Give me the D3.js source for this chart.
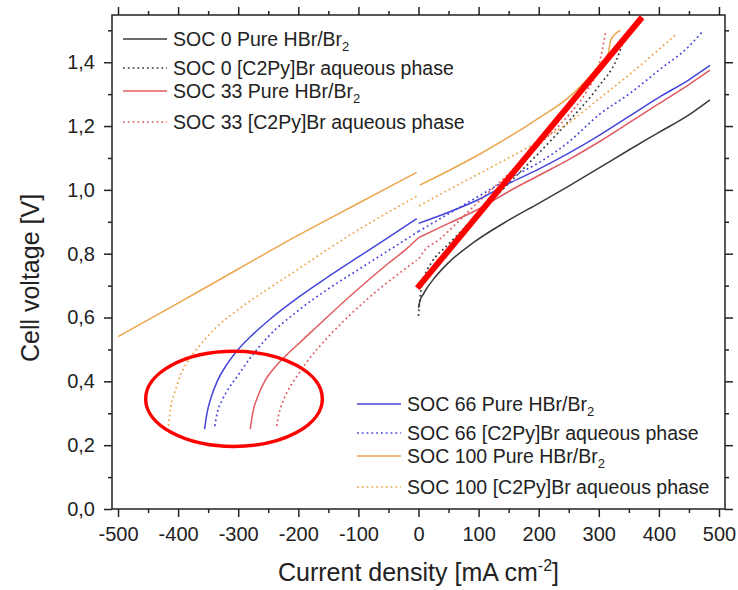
<!DOCTYPE html>
<html>
<head>
<meta charset="utf-8">
<script src="https://cdn.jsdelivr.net/npm/d3@7"></script>
<style>
  body { margin: 0; background: #fff; }
  text { font-family: "Liberation Sans", Arial, sans-serif; fill: #222; }
</style>
</head>
<body>
<div id="chart"></div>
<script>

// tick values for the axes
var x_ticks = [-500, -400, -300, -200, -100, 0, 100, 200, 300, 400, 500]
var x_minor = [-450, -350, -250, -150, -50, 50, 150, 250, 350, 450]
var y_ticks = [0, 0.2, 0.4, 0.6, 0.8, 1.0, 1.2, 1.4]
var y_minor = [0.1, 0.3, 0.5, 0.7, 0.9, 1.1, 1.3, 1.5]

// polarisation curves, [current density, cell voltage]
var soc0_pure_pos = [[0, 0.63], [2, 0.65], [7, 0.67], [15, 0.695], [24, 0.718], [50, 0.772], [90, 0.833], [150, 0.905], [200, 0.958], [250, 1.012], [300, 1.068], [350, 1.125], [400, 1.18], [450, 1.235], [485, 1.282]]
var soc0_ionic_pos = [[0, 0.605], [2, 0.65], [5, 0.695], [10, 0.73], [21, 0.77], [50, 0.83], [100, 0.925], [150, 1.02], [200, 1.115], [250, 1.215], [300, 1.325], [330, 1.41], [345, 1.49]]

var soc33_pure_neg = [[-280, 0.25], [-276, 0.30], [-268, 0.35], [-256, 0.40], [-240, 0.442], [-220, 0.482], [-200, 0.517], [-150, 0.605], [-100, 0.69], [-50, 0.77], [-20, 0.815], [0, 0.85]]
var soc33_pure_pos = [[0, 0.85], [50, 0.895], [100, 0.94], [150, 0.995], [200, 1.045], [250, 1.095], [300, 1.15], [350, 1.21], [400, 1.27], [450, 1.33], [485, 1.375]]
var soc33_ionic_neg = [[-236, 0.26], [-232, 0.30], [-226, 0.335], [-219, 0.365], [-200, 0.422], [-186, 0.46], [-150, 0.54], [-114, 0.608], [-65, 0.69], [-31, 0.74], [-3, 0.78]]
var soc33_ionic_pos = [[1, 0.785], [10, 0.81], [35, 0.845], [63, 0.895], [90, 0.945], [150, 1.05], [200, 1.14], [250, 1.235], [280, 1.31], [300, 1.39], [312, 1.50]]

var soc66_pure_neg = [[-356, 0.25], [-352, 0.30], [-345, 0.35], [-335, 0.40], [-320, 0.45], [-300, 0.50], [-275, 0.548], [-250, 0.59], [-200, 0.663], [-150, 0.728], [-100, 0.79], [-50, 0.851], [-3, 0.91]]
var soc66_pure_pos = [[0, 0.895], [50, 0.93], [100, 0.97], [150, 1.02], [200, 1.065], [250, 1.115], [300, 1.17], [350, 1.23], [400, 1.29], [450, 1.345], [485, 1.39]]
var soc66_ionic_neg = [[-339, 0.26], [-335, 0.30], [-327, 0.34], [-320, 0.365], [-300, 0.42], [-280, 0.473], [-250, 0.54], [-200, 0.622], [-150, 0.69], [-100, 0.75], [-50, 0.81], [0, 0.87]]
var soc66_ionic_pos = [[0, 0.87], [50, 0.925], [100, 0.98], [150, 1.035], [200, 1.085], [250, 1.15], [300, 1.235], [350, 1.30], [400, 1.375], [450, 1.45], [472, 1.495]]

var soc100_pure_neg = [[-500, 0.54], [-400, 0.645], [-300, 0.752], [-200, 0.858], [-100, 0.958], [-3, 1.055]]
var soc100_pure_pos = [[2, 1.015], [50, 1.06], [100, 1.11], [150, 1.165], [200, 1.225], [250, 1.29], [280, 1.345], [300, 1.39], [316, 1.43], [320, 1.47], [336, 1.50]]
var soc100_ionic_neg = [[-416, 0.26], [-412, 0.32], [-405, 0.37], [-398, 0.41], [-385, 0.46], [-365, 0.51], [-336, 0.57], [-300, 0.625], [-250, 0.69], [-200, 0.752], [-150, 0.815], [-100, 0.875], [-50, 0.93], [-3, 0.98]]
var soc100_ionic_pos = [[1, 0.95], [50, 1.0], [100, 1.05], [150, 1.10], [200, 1.152], [250, 1.21], [300, 1.285], [350, 1.36], [400, 1.44], [430, 1.49]]

// legend labels, "_" marks the subscript
var legend_top = ["SOC 0 Pure HBr/Br_2", "SOC 0 [C2Py]Br aqueous phase", "SOC 33 Pure HBr/Br_2", "SOC 33 [C2Py]Br aqueous phase"]
var legend_bottom = ["SOC 66 Pure HBr/Br_2", "SOC 66 [C2Py]Br aqueous phase", "SOC 100 Pure HBr/Br_2", "SOC 100 [C2Py]Br aqueous phase"]

// red hand-drawn marks on top of the figure (data units)
var mark_line = [[-2, 0.692], [372, 1.541]]
var mark_ellipse = [-307, 0.345, 147, 0.149]   // cx, cy, rx, ry


var width = 738, height = 590
var colors = { black: "#3a3a3a", red: "#e05a5f", blue: "#4545dc", orange: "#eca64c" }

// series: branches, color, dotted or not
var series = [
  { parts: [soc0_pure_pos], color: colors.black, dotted: false },
  { parts: [soc0_ionic_pos], color: colors.black, dotted: true },
  { parts: [soc33_pure_neg, soc33_pure_pos], color: colors.red, dotted: false },
  { parts: [soc33_ionic_neg, soc33_ionic_pos], color: colors.red, dotted: true },
  { parts: [soc66_pure_neg, soc66_pure_pos], color: colors.blue, dotted: false },
  { parts: [soc66_ionic_neg, soc66_ionic_pos], color: colors.blue, dotted: true },
  { parts: [soc100_pure_neg, soc100_pure_pos], color: colors.orange, dotted: false },
  { parts: [soc100_ionic_neg, soc100_ionic_pos], color: colors.orange, dotted: true }
]

var svg = d3.select("#chart").append("svg")
  .attr("width", width)
  .attr("height", height)

var x = d3.scaleLinear().domain([-510, 510]).range([112, 725])
var y = d3.scaleLinear().domain([0, 1.548]).range([509, 15])

// plain hyphen for negatives, comma as decimal sign
var int_fmt = function(d){ return String(d) }
var comma = function(d){ return d3.format(".1f")(d).replace(".", ",") }


// draw axes with major and minor ticks on all four sides
function draw_axes(){

  var bottom = svg.append("g").attr("transform", "translate(0," + y(0) + ")")
  bottom.call(d3.axisBottom(x).tickValues(x_ticks).tickSize(8).tickPadding(10).tickFormat(int_fmt))
  bottom.append("g").call(d3.axisBottom(x).tickValues(x_minor).tickSize(4).tickFormat(""))

  var top = svg.append("g").attr("transform", "translate(0," + y(1.548) + ")")
  top.call(d3.axisTop(x).tickValues(x_ticks).tickSize(8).tickFormat(""))
  top.append("g").call(d3.axisTop(x).tickValues(x_minor).tickSize(4).tickFormat(""))

  var left = svg.append("g").attr("transform", "translate(" + x(-510) + ",0)")
  left.call(d3.axisLeft(y).tickValues(y_ticks).tickSize(8).tickPadding(9).tickFormat(comma))
  left.append("g").call(d3.axisLeft(y).tickValues(y_minor).tickSize(4).tickFormat(""))

  var right = svg.append("g").attr("transform", "translate(" + x(510) + ",0)")
  right.call(d3.axisRight(y).tickValues(y_ticks).tickSize(8).tickFormat(""))
  right.append("g").call(d3.axisRight(y).tickValues(y_minor).tickSize(4).tickFormat(""))

  svg.selectAll(".domain").remove()
  svg.selectAll(".tick line").attr("stroke", "#222").attr("stroke-width", 1.5)
  svg.selectAll(".tick text").style("font-size", "20px").attr("fill", "#222")

  // frame
  svg.append("rect")
    .attr("x", x(-510)).attr("y", y(1.548))
    .attr("width", x(510) - x(-510)).attr("height", y(0) - y(1.548))
    .attr("fill", "none").attr("stroke", "#222").attr("stroke-width", 1.5)

  // axis titles
  var xt = svg.append("text")
    .attr("x", x(0)).attr("y", 581)
    .attr("text-anchor", "middle")
    .style("font-size", "25px")
  xt.append("tspan").text("Current density [mA cm")
  xt.append("tspan").text("-2").style("font-size", "16px").attr("dy", -10)
  xt.append("tspan").text("]").attr("dy", 10)

  svg.append("text")
    .attr("transform", "translate(39,278) rotate(-90)")
    .attr("text-anchor", "middle")
    .style("font-size", "25px")
    .text("Cell voltage [V]")
}


// draw the curves
function draw_curves(){

  var line = d3.line()
    .x(function(d){ return x(d[0]) })
    .y(function(d){ return y(d[1]) })
    .curve(d3.curveMonotoneX)

  series.forEach(function(s){
    s.parts.forEach(function(p){
      svg.append("path")
        .datum(p)
        .attr("d", line)
        .attr("fill", "none")
        .attr("stroke", s.color)
        .attr("stroke-width", s.dotted ? 1.7 : 1.5)
        .attr("stroke-dasharray", s.dotted ? "1.8,3" : null)
    })
  })
}


// legend with sample line and label, subscript after "_"
function draw_legend(labels, items, x0, y0){

  var offsets = [0, 29, 52, 83]

  labels.forEach(function(label, i){
    var s = items[i]
    var cy = y0 + offsets[i]

    svg.append("line")
      .attr("x1", x0).attr("x2", x0 + 44)
      .attr("y1", cy).attr("y2", cy)
      .attr("stroke", s.color)
      .attr("stroke-width", 1.5)
      .attr("stroke-dasharray", s.dotted ? "1.8,3" : null)

    var t = svg.append("text")
      .attr("x", x0 + 50).attr("y", cy + 7)
      .style("font-size", "19.5px")
    var pieces = label.split("_")
    t.append("tspan").text(pieces[0])
    if (pieces.length > 1){
      t.append("tspan").text(pieces[1]).style("font-size", "13px").attr("dy", 5)
    }
  })
}


// red annotation marks
function draw_marks(){

  svg.append("line")
    .attr("x1", x(mark_line[0][0])).attr("y1", y(mark_line[0][1]))
    .attr("x2", x(mark_line[1][0])).attr("y2", y(mark_line[1][1]))
    .attr("stroke", "#ff0000")
    .attr("stroke-width", 6)

  svg.append("ellipse")
    .attr("cx", x(mark_ellipse[0])).attr("cy", y(mark_ellipse[1]))
    .attr("rx", x(mark_ellipse[0] + mark_ellipse[2]) - x(mark_ellipse[0]))
    .attr("ry", y(0) - y(mark_ellipse[3]))
    .attr("fill", "none")
    .attr("stroke", "#ff0000")
    .attr("stroke-width", 3.5)
}


draw_axes()
draw_curves()
draw_legend(legend_top, series.slice(0, 4), 123, 39)
draw_legend(legend_bottom, series.slice(4, 8), 357, 404)
draw_marks()

</script>
</body>
</html>
